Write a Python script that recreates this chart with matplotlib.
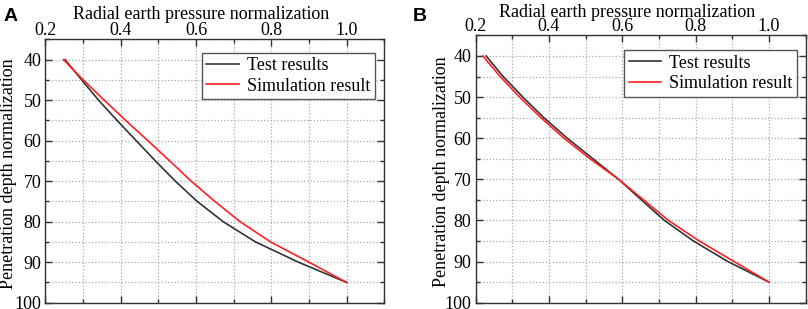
import numpy as np
import matplotlib.pyplot as plt
from matplotlib.ticker import MultipleLocator

plt.rcParams['font.family'] = ['Liberation Serif', 'DejaVu Serif']
plt.rcParams['font.size'] = 13

# penetration depth (normalized)
depth = [40, 45, 50, 55, 60, 65, 70, 75, 80, 85, 90, 95]

# panel A
test_a = [0.252, 0.296, 0.341, 0.390, 0.441, 0.492, 0.545, 0.603, 0.672, 0.758, 0.872, 1.0]
sim_a = [0.248, 0.300, 0.356, 0.413, 0.472, 0.530, 0.587, 0.650, 0.717, 0.798, 0.900, 1.0]

# panel B
test_b = [0.229, 0.275, 0.329, 0.386, 0.450, 0.520, 0.590, 0.652, 0.715, 0.794, 0.888, 1.0]
sim_b = [0.220, 0.267, 0.320, 0.378, 0.441, 0.512, 0.590, 0.658, 0.726, 0.810, 0.905, 1.0]

xticks = [0.2, 0.4, 0.6, 0.8, 1.0]
yticks = [40, 50, 60, 70, 80, 90, 100]

fig = plt.figure(figsize=(8.08, 3.09), dpi=100)
ax_a = fig.add_axes([0.0563, 0.0204, 0.4193, 0.8521])
ax_b = fig.add_axes([0.5886, 0.0204, 0.4085, 0.8650])


def draw(ax, test, sim, leg_anchor, xlab_y, ylab_x):
    ax.plot(test, depth, color='#333333', lw=1.2, label='Test results')
    ax.plot(sim, depth, color='#ff2020', lw=1.2, label='Simulation result')
    ax.set_xlim(0.2, 1.1)
    ax.set_ylim(100, 35)
    ax.set_xticks(xticks)
    ax.set_xticklabels(['%.1f' % v for v in xticks])
    ax.set_yticks(yticks)
    ax.xaxis.set_minor_locator(MultipleLocator(0.1))
    ax.yaxis.set_minor_locator(MultipleLocator(5))
    ax.xaxis.tick_top()
    ax.xaxis.set_label_position('top')
    ax.tick_params(which='both', direction='in', top=True, bottom=True,
                   left=True, right=True, labelbottom=False, labeltop=True,
                   color='#333333', width=1)
    ax.tick_params(which='major', length=5)
    ax.tick_params(axis='x', which='major', pad=0.5)
    ax.tick_params(axis='y', which='major', pad=3)
    ax.tick_params(which='minor', length=3)
    ax.grid(True, which='both', ls=':', color='#aaaaaa', lw=0.9)
    for s in ax.spines.values():
        s.set_color('#333333')
        s.set_linewidth(1.0)
    ax.set_xlabel('Radial earth pressure normalization')
    ax.set_ylabel('Penetration depth normalization')
    ax.xaxis.set_label_coords(0.46, xlab_y)
    ax.yaxis.set_label_coords(ylab_x, 0.49)
    leg = ax.legend(loc='upper right', bbox_to_anchor=leg_anchor,
                    borderaxespad=0, fancybox=False, framealpha=1,
                    edgecolor='#555555', handlelength=1.8,
                    borderpad=0.25, labelspacing=0.2, handletextpad=0.46)
    leg.get_frame().set_linewidth(1.0)


draw(ax_a, test_a, sim_a, (0.9726, 0.9495), 1.078, -0.084)
draw(ax_b, test_b, sim_b, (0.9745, 0.945), 1.068, -0.078)

fig.text(0.004, 0.975, 'A', fontsize=14, fontweight='bold',
         family='Liberation Sans', va='top')
fig.text(0.511, 0.975, 'B', fontsize=14, fontweight='bold',
         family='Liberation Sans', va='top')

fig.savefig('out.png', dpi=100)
